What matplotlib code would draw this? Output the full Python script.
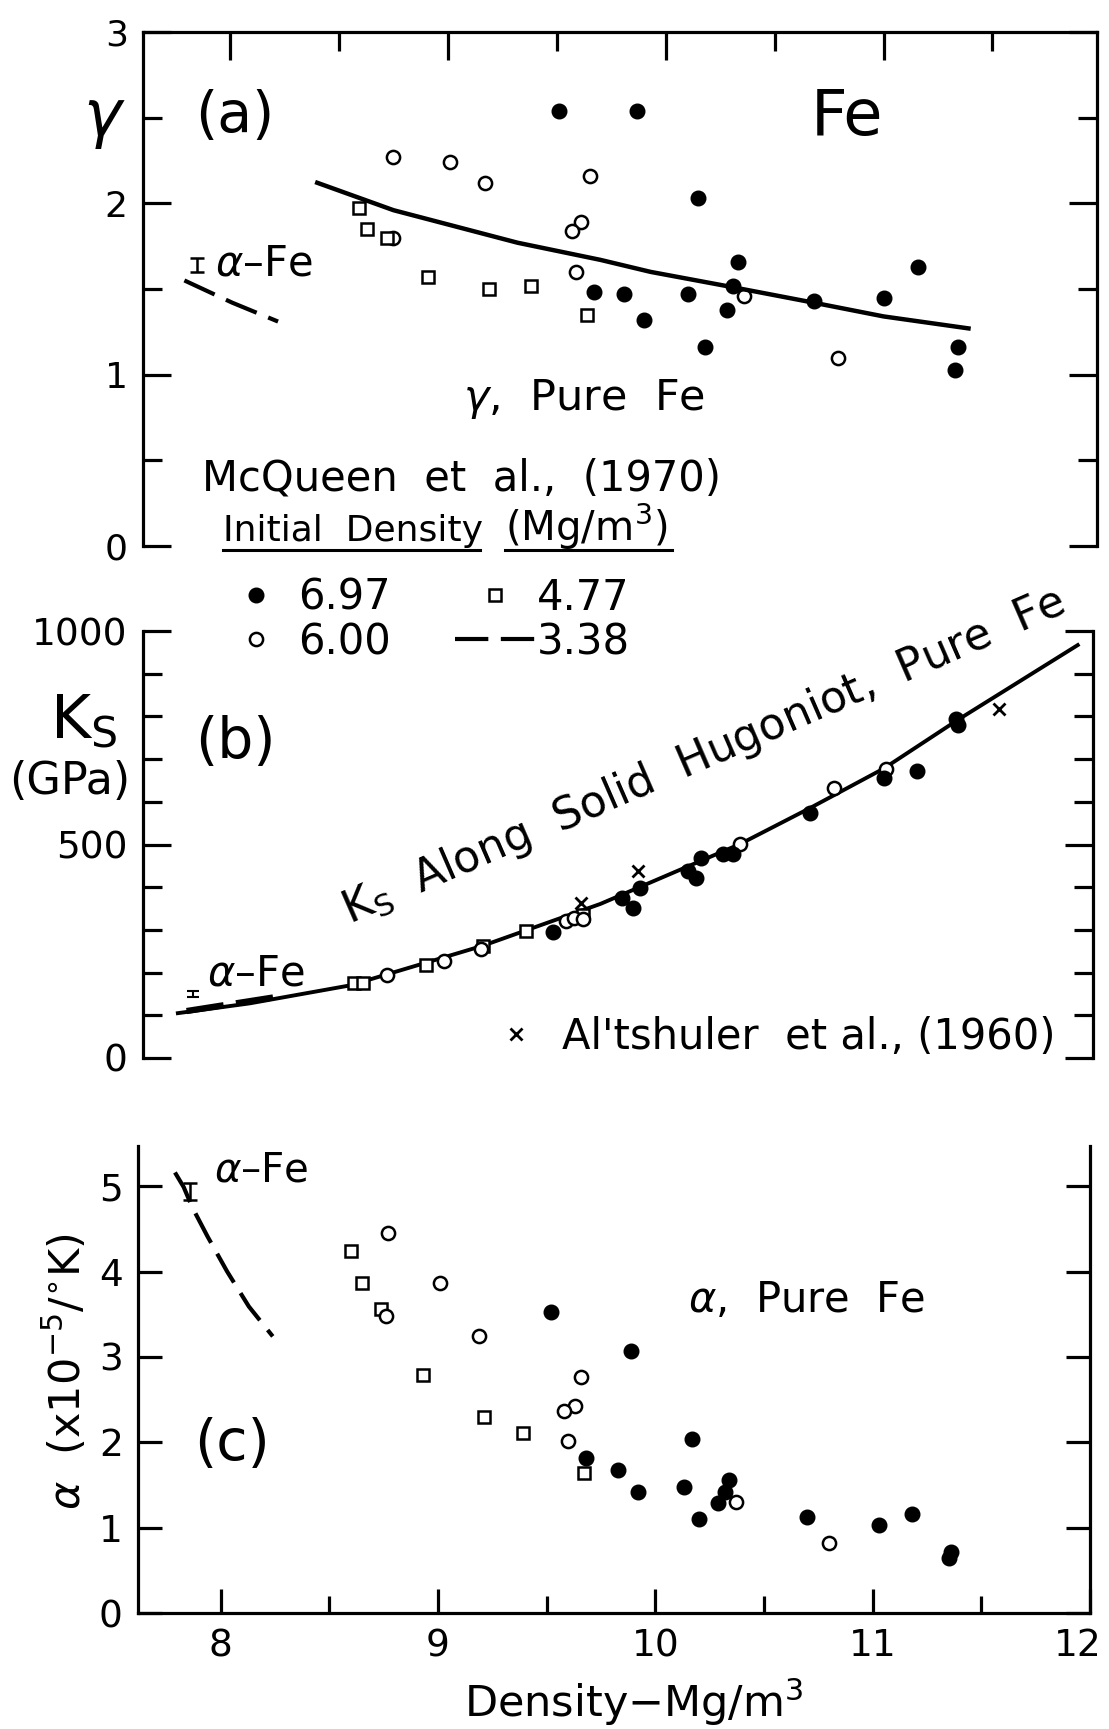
import numpy as np
import matplotlib
matplotlib.use("Agg")
import matplotlib.pyplot as plt
from matplotlib.lines import Line2D
from matplotlib.ticker import FixedLocator
from matplotlib.transforms import ScaledTranslation

plt.rcParams['font.family'] = ['DejaVu Sans']
plt.rcParams['mathtext.fontset'] = 'dejavusans'

# ---- (a) Grueneisen parameter gamma ----
a_filled_x = [9.51, 9.87, 10.15, 10.33, 10.31, 9.67, 9.81, 10.10, 9.90, 10.28, 10.18, 10.68, 11.00, 11.16, 11.34, 11.33]
a_filled_y = [2.54, 2.54, 2.03, 1.66, 1.52, 1.48, 1.47, 1.47, 1.32, 1.38, 1.16, 1.43, 1.45, 1.63, 1.16, 1.03]
a_open_x = [8.75, 9.01, 9.17, 9.65, 9.61, 9.57, 9.59, 8.75, 10.36, 10.79]
a_open_y = [2.27, 2.24, 2.12, 2.16, 1.89, 1.84, 1.60, 1.80, 1.46, 1.10]
a_sq_x = [8.59, 8.63, 8.72, 8.91, 9.19, 9.38, 9.64]
a_sq_y = [1.97, 1.85, 1.80, 1.57, 1.50, 1.52, 1.35]
a_fit_x = [8.40, 8.75, 9.32, 9.70, 9.93, 10.31, 10.68, 11.00, 11.39]
a_fit_y = [2.12, 1.96, 1.77, 1.67, 1.60, 1.51, 1.42, 1.34, 1.27]
a_alpha_x = [7.79, 8.01, 8.22]
a_alpha_y = [1.55, 1.42, 1.31]
a_bar = (7.85, 1.64, 0.04)

# ---- (b) K_S along the Hugoniot (GPa) ----
b_filled_x = [9.48, 9.80, 9.85, 9.88, 10.10, 10.14, 10.16, 10.26, 10.31, 10.66, 11.00, 11.15, 11.33, 11.34]
b_filled_y = [294, 375, 352, 399, 438, 422, 469, 478, 478, 573, 655, 673, 795, 781]
b_open_x = [8.72, 8.98, 9.15, 9.54, 9.58, 9.62, 10.34, 10.77, 11.01]
b_open_y = [194, 228, 256, 322, 329, 326, 501, 632, 676]
b_sq_x = [8.57, 8.61, 8.90, 9.16, 9.36, 9.62]
b_sq_y = [175, 175, 217, 263, 298, 335]
b_x_x = [9.61, 9.87, 11.53]
b_x_y = [364, 438, 818]
b_fit_x = [7.76, 8.09, 8.55, 9.16, 9.70, 10.34, 10.66, 11.00, 11.34, 11.89]
b_fit_y = [105, 128, 170, 263, 361, 501, 585, 678, 792, 967]
b_alpha_x = [7.80, 8.20]
b_alpha_y = [110, 142]
b_bar = (7.83, 150, 7)

# ---- (c) thermal expansion alpha (x1e-5 /K) ----
c_filled_x = [9.52, 9.89, 9.68, 9.83, 9.92, 10.17, 10.13, 10.20, 10.34, 10.32, 10.29, 10.70, 11.03, 11.18, 11.36, 11.35]
c_filled_y = [3.53, 3.07, 1.82, 1.68, 1.42, 2.04, 1.47, 1.10, 1.56, 1.42, 1.29, 1.13, 1.03, 1.16, 0.72, 0.64]
c_open_x = [8.77, 9.01, 8.76, 9.19, 9.66, 9.63, 9.58, 9.60, 10.37, 10.80]
c_open_y = [4.45, 3.87, 3.48, 3.24, 2.76, 2.43, 2.37, 2.02, 1.30, 0.82]
c_sq_x = [8.60, 8.65, 8.74, 8.93, 9.21, 9.39, 9.67]
c_sq_y = [4.24, 3.87, 3.56, 2.79, 2.29, 2.11, 1.64]
c_alpha_x = [7.79, 7.83, 7.87, 7.94, 8.03, 8.13, 8.24]
c_alpha_y = [5.16, 4.99, 4.75, 4.41, 4.00, 3.59, 3.24]
c_bar = (7.86, 4.94, 0.10)

legend_labels = ['6.97', '6.00', '4.77', '3.38']
x_ticks = [8, 9, 10, 11, 12]

# figure in pixels
W, H = 1109, 1729
fig = plt.figure(figsize=(W / 100, H / 100), dpi=100)


def rect(l, t, r, b):
    return [l / W, 1 - b / H, (r - l) / W, (b - t) / H]


def ftext(px, py, s, **kw):
    return fig.text(px / W, 1 - py / H, s, **kw)


LW = 2.3
filled_kw = dict(ls='none', marker='o', ms=10.5, mfc='black', mec='black')
open_kw = dict(ls='none', marker='o', ms=9.5, mfc='white', mec='black', mew=1.8)
sq_kw = dict(ls='none', marker='s', ms=8, mfc='white', mec='black', mew=1.8)
dash_kw = dict(color='black', lw=3.0, dashes=(8, 3))
bar_kw = dict(fmt='none', ecolor='black', elinewidth=1.8, capsize=5, capthick=1.8)


def style_axes(ax, hide):
    ax.set_facecolor('none')
    for s in ['top', 'bottom', 'left', 'right']:
        ax.spines[s].set_linewidth(LW)
    for s in hide:
        ax.spines[s].set_visible(False)
    ax.tick_params(axis='both', which='both', direction='in', width=LW, pad=11)
    ax.tick_params(axis='y', which='both', left=True, right=True, labelright=False)


# ---------------- panel (a) ----------------
ax_a = fig.add_axes(rect(143, 32, 1097, 546))
style_axes(ax_a, ['bottom'])
ax_a.set_xlim(7.60, 11.98)
ax_a.set_ylim(0, 3)
h_filled, = ax_a.plot(a_filled_x, a_filled_y, **filled_kw)
h_open, = ax_a.plot(a_open_x, a_open_y, **open_kw)
h_sq, = ax_a.plot(a_sq_x, a_sq_y, **sq_kw)
ax_a.plot(a_fit_x, a_fit_y, color='black', lw=3.2)
h_dash, = ax_a.plot(a_alpha_x, a_alpha_y, **dash_kw)
ax_a.errorbar([a_bar[0]], [a_bar[1]], yerr=[a_bar[2]], **bar_kw)
ax_a.xaxis.set_major_locator(FixedLocator([8, 9, 10, 11]))
ax_a.xaxis.set_minor_locator(FixedLocator([8.5, 9.5, 10.5, 11.5]))
ax_a.tick_params(axis='x', which='both', top=True, bottom=False, labeltop=False, labelbottom=False)
ax_a.yaxis.set_major_locator(FixedLocator([0, 1, 2, 3]))
ax_a.yaxis.set_minor_locator(FixedLocator([0.5, 1.5, 2.5]))
ax_a.tick_params(which='major', length=20, labelsize=26)
ax_a.tick_params(which='minor', length=14)

ftext(104, 120, r'$\gamma$', fontsize=46, ha='center', va='center')
ftext(235, 117, '(a)', fontsize=41, ha='center', va='center')
ftext(847, 117, 'Fe', fontsize=46, ha='center', va='center')
ftext(215, 264, r'$\alpha$–Fe', fontsize=30, ha='left', va='center')
ftext(463, 399, r'$\gamma$,  Pure  Fe', fontsize=31, ha='left', va='center')
ftext(202, 479, 'McQueen  et  al.,  (1970)', fontsize=30, ha='left', va='center')
ftext(223, 541, 'Initial  Density', fontsize=26, ha='left', va='baseline')
ftext(505, 541, r'(Mg/m$^3$)', fontsize=29, ha='left', va='baseline')
for x0, x1 in [(223, 480), (505, 672)]:
    fig.add_artist(Line2D([x0 / W, x1 / W], [1 - 550 / H, 1 - 550 / H],
                          transform=fig.transFigure, color='black', lw=2.2))

fig.legend([h_filled, h_open, h_sq, h_dash], legend_labels, ncol=2,
           loc='upper left', bbox_to_anchor=(216 / W, 1 - 577 / H),
           frameon=False, fontsize=30, borderpad=0, borderaxespad=0,
           handlelength=1.9, handletextpad=0.06, columnspacing=1.56,
           labelspacing=0.05)

# ---------------- panel (b) ----------------
ax_b = fig.add_axes(rect(143, 631, 1093, 1058))
style_axes(ax_b, ['top', 'bottom'])
ax_b.set_xlim(7.60, 11.96)
ax_b.set_ylim(0, 1000)
ax_b.plot(b_fit_x, b_fit_y, color='black', lw=2.8)
ax_b.plot(b_alpha_x, b_alpha_y, color='black', lw=4.5, dashes=(6, 2))
ax_b.plot(b_sq_x, b_sq_y, **sq_kw)
ax_b.plot(b_open_x, b_open_y, **open_kw)
ax_b.plot(b_filled_x, b_filled_y, **filled_kw)
h_x, = ax_b.plot(b_x_x, b_x_y, ls='none', marker='x', ms=8, mew=2, color='black')
ax_b.errorbar([b_bar[0]], [b_bar[1]], yerr=[b_bar[2]], fmt='none', ecolor='black',
              elinewidth=1.5, capsize=4, capthick=1.5)
ax_b.set_xticks([])
ax_b.yaxis.set_major_locator(FixedLocator([0, 500, 1000]))
ax_b.yaxis.set_minor_locator(FixedLocator([100, 200, 300, 400, 600, 700, 800, 900]))
ax_b.tick_params(which='major', length=20, labelsize=27)
ax_b.tick_params(which='minor', length=14)

ftext(84, 722, r'$\mathregular{K_S}$', fontsize=44, ha='center', va='center')
ftext(70, 781, '(GPa)', fontsize=32, ha='center', va='center')
ftext(235, 742, '(b)', fontsize=41, ha='center', va='center')
ftext(207, 973, r'$\alpha$–Fe', fontsize=30, ha='left', va='center')
ftext(350, 924, r'$\mathregular{K_S}$  Along  Solid  Hugoniot,  Pure  Fe', fontsize=31.5,
      ha='left', va='baseline', rotation=23.5, rotation_mode='anchor')
fig.legend([h_x], ["Al'tshuler  et al., (1960)"], loc='center left',
           bbox_to_anchor=(495 / W, 1 - 1037 / H), frameon=False, fontsize=30,
           borderpad=0, borderaxespad=0, handlelength=1.0, handletextpad=0.6)

# ---------------- panel (c) ----------------
ax_c = fig.add_axes(rect(138, 1146, 1090, 1613))
style_axes(ax_c, ['top'])
ax_c.set_xlim(7.62, 12.0)
ax_c.set_ylim(0, 5.47)
ax_c.plot(c_alpha_x, c_alpha_y, **dash_kw)
ax_c.errorbar([c_bar[0]], [c_bar[1]], yerr=[c_bar[2]], **bar_kw)
ax_c.plot(c_sq_x, c_sq_y, **sq_kw)
ax_c.plot(c_open_x, c_open_y, **open_kw)
ax_c.plot(c_filled_x, c_filled_y, **filled_kw)
ax_c.xaxis.set_major_locator(FixedLocator(x_ticks))
ax_c.xaxis.set_minor_locator(FixedLocator([8.5, 9.5, 10.5, 11.5]))
ax_c.yaxis.set_major_locator(FixedLocator([0, 1, 2, 3, 4, 5]))
ax_c.tick_params(axis='x', which='both', top=False, bottom=True)
ax_c.tick_params(which='major', length=17, labelsize=27)
ax_c.tick_params(axis='x', which='minor', length=12)
ax_c.set_xticklabels([str(t) for t in x_ticks])
# keep the last label inside the page, as in the original
last = ax_c.get_xticklabels()[-1]
last.set_transform(last.get_transform() + ScaledTranslation(-12 / 100, 0, fig.dpi_scale_trans))

ftext(66, 1372, r'$\alpha$  (x10$^{-5}$/$^{\circ}$K)', fontsize=31, ha='center',
      va='center', rotation=90)
ftext(634, 1702, r'Density$-$Mg/m$^3$', fontsize=31, ha='center', va='center')
ftext(232, 1445, '(c)', fontsize=41, ha='center', va='center')
ftext(214, 1170, r'$\alpha$–Fe', fontsize=29, ha='left', va='center')
ftext(688, 1300, r'$\alpha$,  Pure  Fe', fontsize=30, ha='left', va='center')

fig.savefig('out.png', dpi=100)
